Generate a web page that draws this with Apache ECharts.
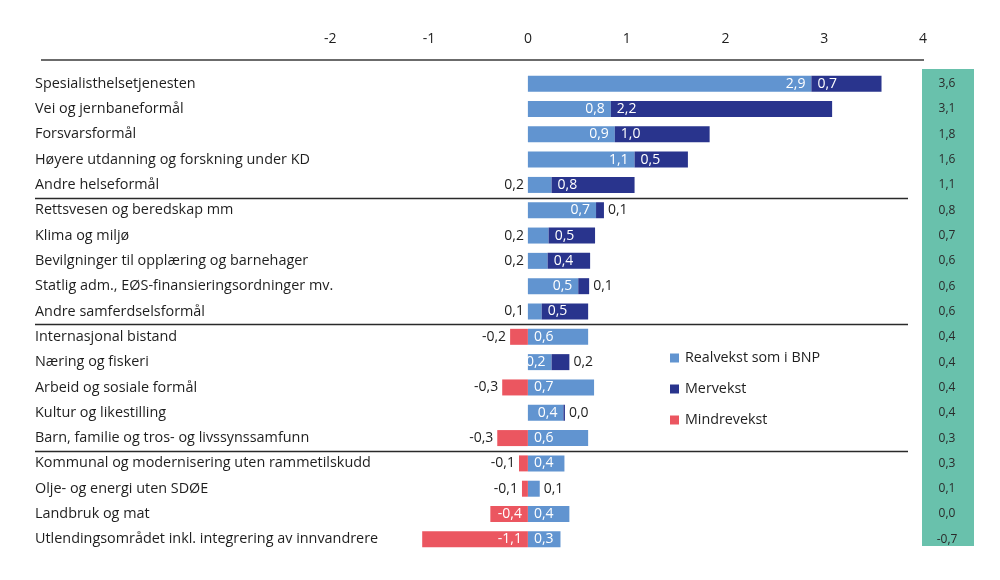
<!DOCTYPE html>
<html>
<head>
<meta charset="utf-8">
<script src="https://cdn.jsdelivr.net/npm/echarts@6/dist/echarts.min.js"></script>
<style>
  html, body { margin: 0; padding: 0; background: #fff; }
  #chart { width: 1000px; height: 580px; }
</style>
</head>
<body>
<div id="chart"></div>
<script>
var categories = [
    'Spesialisthelsetjenesten',
    'Vei og jernbaneformål',
    'Forsvarsformål',
    'Høyere utdanning og forskning under KD',
    'Andre helseformål',
    'Rettsvesen og beredskap mm',
    'Klima og miljø',
    'Bevilgninger til opplæring og barnehager',
    'Statlig adm., EØS-finansieringsordninger mv.',
    'Andre samferdselsformål',
    'Internasjonal bistand',
    'Næring og fiskeri',
    'Arbeid og sosiale formål',
    'Kultur og likestilling',
    'Barn, familie og tros- og livssynssamfunn',
    'Kommunal og modernisering uten rammetilskudd',
    'Olje- og energi uten SDØE',
    'Landbruk og mat',
    'Utlendingsområdet inkl. integrering av innvandrere'
]
var realvekst = [2.87, 0.84, 0.88, 1.08, 0.24, 0.69, 0.21, 0.2, 0.51, 0.14, 0.61, 0.24, 0.67, 0.36, 0.61, 0.37, 0.12, 0.42, 0.33]
var mervekst = [0.71, 2.24, 0.96, 0.54, 0.84, 0.08, 0.47, 0.43, 0.11, 0.47, 0, 0.18, 0, 0.015, 0, 0, 0, 0, 0]
var mindrevekst = [0, 0, 0, 0, 0, 0, 0, 0, 0, 0, -0.18, 0, -0.26, 0, -0.31, -0.09, -0.06, -0.38, -1.07]
var totals = [3.6, 3.1, 1.8, 1.6, 1.1, 0.8, 0.7, 0.6, 0.6, 0.6, 0.4, 0.4, 0.4, 0.4, 0.3, 0.3, 0.1, 0.0, -0.7]
var groupBreaks = [5, 10, 15]   // separator line before these rows
var xMin = -5, xMax = 4, firstTickShown = -2

var FONT = 'Open Sans'
var TEXT = '#1e1e1e'

function fmt(v) {
    return v.toFixed(1).replace('.', ',')
}

function lbl(pos, inside) {
    return {
        show: true,
        position: pos,
        distance: inside ? 6 : 4,
        color: inside ? '#fff' : TEXT,
        fontFamily: FONT,
        fontSize: 14
    }
}

// label placement roughly as in the original chart
var realData = realvekst.map(function (v, i) {
    var pos, inside
    if (mindrevekst[i] < 0) {
        inside = v >= 0.2
        pos = inside ? 'insideLeft' : 'right'
    } else if (v < 0.3 && mervekst[i] >= 0.3) {
        inside = false
        pos = 'left'
    } else {
        inside = true
        pos = 'insideRight'
    }
    return { value: v, label: lbl(pos, inside) }
})

var merData = mervekst.map(function (v) {
    if (v === 0) return { value: v, label: { show: false } }
    var inside = v >= 0.3
    return { value: v, label: lbl(inside ? 'insideLeft' : 'right', inside) }
})

var mindreData = mindrevekst.map(function (v) {
    if (v === 0) return { value: v, label: { show: false } }
    var inside = v <= -0.35
    return { value: v, label: lbl(inside ? 'insideRight' : 'left', inside) }
})

var chart = echarts.init(document.getElementById('chart'))

var option = {
    animation: false,
    textStyle: { fontFamily: FONT },
    grid: { left: 34, right: 77, top: 71, bottom: 28 },
    legend: {
        orient: 'vertical',
        left: 665,
        top: 346,
        itemWidth: 9,
        itemHeight: 9,
        itemGap: 17,
        icon: 'rect',
        textStyle: { fontFamily: FONT, fontSize: 14.3, color: TEXT, padding: [0, 0, 0, 1] },
        data: ['Realvekst som i BNP', 'Mervekst', 'Mindrevekst']
    },
    xAxis: {
        type: 'value',
        position: 'top',
        min: xMin,
        max: xMax,
        interval: 1,
        splitLine: { show: false },
        axisLine: { show: false },
        axisTick: { show: false },
        axisLabel: {
            margin: 25,
            fontFamily: FONT,
            fontSize: 14,
            color: TEXT,
            formatter: function (v) { return v < firstTickShown ? '' : String(v) }
        }
    },
    yAxis: [
        {
            type: 'category',
            inverse: true,
            data: categories,
            axisLine: { show: false },
            axisTick: { show: false },
            axisLabel: {
                inside: true,
                margin: 1,
                align: 'left',
                fontFamily: FONT,
                fontSize: 14.4,
                color: TEXT
            }
        },
        {
            type: 'category',
            inverse: true,
            position: 'right',
            data: totals.map(fmt),
            axisLine: { show: false },
            axisTick: { show: false },
            axisLabel: {
                margin: 24,
                align: 'center',
                fontFamily: FONT,
                fontSize: 12,
                color: '#2a2a2a'
            },
            z: 5
        }
    ],
    series: [
        {
            name: 'Realvekst som i BNP',
            type: 'bar',
            stack: 'a',
            barWidth: 16,
            itemStyle: { color: '#6194d0' },
            label: { formatter: function (p) { return fmt(p.value) } },
            data: realData
        },
        {
            name: 'Mervekst',
            type: 'bar',
            stack: 'a',
            barWidth: 16,
            itemStyle: { color: '#29348d' },
            label: { formatter: function (p) { return fmt(p.value) } },
            data: merData
        },
        {
            name: 'Mindrevekst',
            type: 'bar',
            stack: 'a',
            barWidth: 16,
            itemStyle: { color: '#eb5660' },
            label: { formatter: function (p) { return fmt(p.value) } },
            data: mindreData
        }
    ]
}

chart.setOption(option)

// decorations: top axis line, group separators and the green total column
var y0 = chart.convertToPixel({ yAxisIndex: 0 }, 0)
var y1 = chart.convertToPixel({ yAxisIndex: 0 }, 1)
var yLast = chart.convertToPixel({ yAxisIndex: 0 }, categories.length - 1)
var step = y1 - y0
var xEnd = chart.convertToPixel({ xAxisIndex: 0 }, xMax)

var graphics = [
    {
        type: 'line',
        shape: { x1: 41, y1: 60, x2: xEnd + 1, y2: 60 },
        style: { stroke: '#3a3a3a', lineWidth: 1.3 }
    },
    {
        type: 'rect',
        z: -1,
        shape: { x: xEnd - 1, y: y0 - step / 2 - 2, width: 52, height: yLast - y0 + step - 4 },
        style: { fill: '#69c1ac' }
    }
]
groupBreaks.forEach(function (b) {
    var y = Math.round(chart.convertToPixel({ yAxisIndex: 0 }, b) - step / 2) + 0.5
    graphics.push({
        type: 'line',
        shape: { x1: 35, y1: y, x2: 908, y2: y },
        style: { stroke: '#2a2a2a', lineWidth: 1.3 }
    })
})
chart.setOption({ graphic: graphics })
</script>
</body>
</html>
